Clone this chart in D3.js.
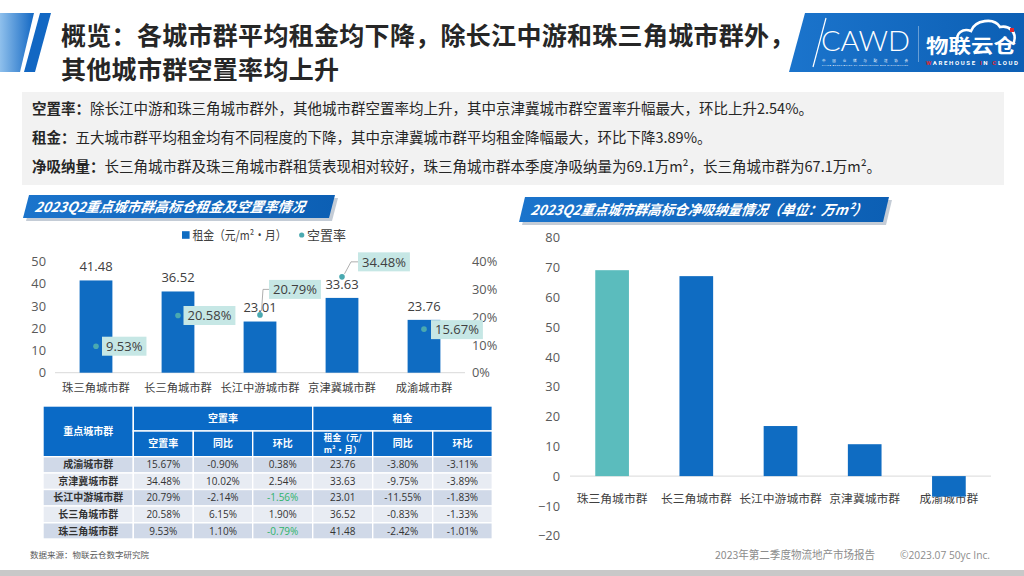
<!DOCTYPE html>
<html>
<head>
<meta charset="utf-8">
<script src="https://cdn.jsdelivr.net/npm/d3@7"></script>
<style>
  html, body { margin: 0; padding: 0; background: #fff; }
  svg { display: block; font-family: "Open Sans", "Noto Sans CJK SC", sans-serif; }
</style>
</head>
<body>
<svg id="page" width="1024" height="576"></svg>
<script>
'use strict';

// ---- Data ----
const titleLines = ['概览：各城市群平均租金均下降，除长江中游和珠三角城市群外，', '其他城市群空置率均上升'];
const summaryLabels = ['空置率：', '租金：', '净吸纳量：'];
const summaryTexts = [
  '除长江中游和珠三角城市群外，其他城市群空置率均上升，其中京津冀城市群空置率升幅最大，环比上升2.54%。',
  '五大城市群平均租金均有不同程度的下降，其中京津冀城市群平均租金降幅最大，环比下降3.89%。',
  '长三角城市群及珠三角城市群租赁表现相对较好，珠三角城市群本季度净吸纳量为69.1万m²，长三角城市群为67.1万m²。'
];

const cities = ['珠三角城市群', '长三角城市群', '长江中游城市群', '京津冀城市群', '成渝城市群'];
const rent = [41.48, 36.52, 23.01, 33.63, 23.76];
const vacancy = [0.0953, 0.2058, 0.2079, 0.3448, 0.1567];
const absorption = [69.1, 67.1, 16.8, 10.7, -6.9];

const rentTicks = [0, 10, 20, 30, 40, 50];
const vacancyTicks = [0, 0.1, 0.2, 0.3, 0.4];
const absorptionTicks = [-20, -10, 0, 10, 20, 30, 40, 50, 60, 70, 80];

const tableCities = ['成渝城市群', '京津冀城市群', '长江中游城市群', '长三角城市群', '珠三角城市群'];
const tableVacancy = [15.67, 34.48, 20.79, 20.58, 9.53];
const tableVacancyYoY = [-0.90, 10.02, -2.14, 6.15, 1.10];
const tableVacancyQoQ = [0.38, 2.54, -1.56, 1.90, -0.79];
const tableRent = [23.76, 33.63, 23.01, 36.52, 41.48];
const tableRentYoY = [-3.80, -9.75, -11.55, -0.83, -2.42];
const tableRentQoQ = [-3.11, -3.89, -1.83, -1.33, -1.01];

const leftTitle = '2023Q2重点城市群高标仓租金及空置率情况';
const rightTitle = '2023Q2重点城市群高标仓净吸纳量情况（单位：万m²）';
const sourceNote = '数据来源：物联云仓数字研究院';
const footerReport = '2023年第二季度物流地产市场报告';
const footerCopy = '©2023.07 50yc Inc.';

// ---- Styles ----
const BLUE = '#0f6cc2';
const TEAL = '#5bbcbd';
const DOT = '#4aa9b0';
const TEXT = '#404040';
const AXIS_TEXT = '#595959';
const CJK = '"Noto Sans CJK SC", sans-serif';
const LATIN = '"Open Sans", "Noto Sans CJK SC", sans-serif';

const fmt = d3.formatLocale({ decimal: '.', thousands: ',', grouping: [3], currency: ['', ''], minus: '-' });
const pct2 = v => fmt.format('.2f')(v) + '%';

const svg = d3.select('#page');
const defs = svg.append('defs');

const grad = defs.append('linearGradient').attr('id', 'bannerGrad').attr('x1', 0).attr('x2', 1);
grad.append('stop').attr('offset', 0).attr('stop-color', '#1b74cc');
grad.append('stop').attr('offset', 1).attr('stop-color', '#0c5fb4');

const stripeGrad = defs.append('linearGradient').attr('id', 'stripeGrad').attr('x1', 0).attr('x2', 1);
stripeGrad.append('stop').attr('offset', 0).attr('stop-color', '#8fc0ec');
stripeGrad.append('stop').attr('offset', 1).attr('stop-color', '#1267c3');

// ---- Header ----
svg.append('polygon').attr('points', '0,13 34,13 20,72 0,72').attr('fill', 'url(#stripeGrad)');
svg.append('polygon').attr('points', '40,13 51,13 35,72 24,72').attr('fill', '#1267c3');

svg.append('g').selectAll('text')
  .data(titleLines)
  .join('text')
  .attr('x', 61)
  .attr('y', (d, i) => 35.5 + i * 34.5)
  .attr('dy', '0.36em')
  .attr('font-family', CJK)
  .attr('font-weight', 700)
  .attr('font-size', 25)
  .attr('letter-spacing', 0.3)
  .attr('fill', '#262626')
  .text(d => d);

// Logo block
const logo = svg.append('g');
logo.append('polygon').attr('points', '805,13 1024,13 1024,72 789,72').attr('fill', 'url(#bannerGrad)');
logo.append('line').attr('x1', 826).attr('y1', 18).attr('x2', 813).attr('y2', 67)
  .attr('stroke', '#fff').attr('stroke-width', 1.2);
logo.append('text').attr('x', 821).attr('y', 51)
  .attr('font-family', 'Lato, sans-serif').attr('font-weight', 300).attr('font-size', 28)
  .attr('textLength', 89).attr('lengthAdjust', 'spacingAndGlyphs').attr('fill', '#fff').text('CAWD');
logo.append('text').attr('x', 822).attr('y', 61.5)
  .attr('font-family', CJK).attr('font-size', 3.5).attr('textLength', 86).attr('fill', '#fff')
  .text('中 国 仓 储 与 配 送 协 会');
logo.append('text').attr('x', 822).attr('y', 65.5)
  .attr('font-family', 'Roboto, sans-serif').attr('font-size', 2.3).attr('textLength', 86).attr('fill', '#fff')
  .text('CHINA ASSOCIATION OF WAREHOUSES AND DISTRIBUTION');
logo.append('line').attr('x1', 918.5).attr('x2', 918.5).attr('y1', 26).attr('y2', 62)
  .attr('stroke', '#fff').attr('stroke-opacity', 0.45).attr('stroke-width', 0.8);
logo.append('path')
  .attr('d', 'M958,42 C955,33 963,28 971,31 C975,20 994,17 1000,27 C1009,25 1017,32 1014,42')
  .attr('fill', 'none').attr('stroke', '#fff').attr('stroke-width', 2.6).attr('stroke-linecap', 'round');
logo.append('rect').attr('x', 1010).attr('y', 28).attr('width', 4).attr('height', 4).attr('fill', '#e2262e');
logo.append('text').attr('x', 926).attr('y', 53)
  .attr('font-family', CJK).attr('font-weight', 700).attr('font-size', 19)
  .attr('textLength', 90).attr('lengthAdjust', 'spacingAndGlyphs').attr('fill', '#fff').text('物联云仓');
const wic = logo.append('text').attr('x', 926).attr('y', 65)
  .attr('font-family', 'Roboto, sans-serif').attr('font-weight', 700).attr('font-size', 6)
  .attr('textLength', 92).attr('fill', '#fff');
[['W', '#e2262e'], ['AREHOUSE ', '#fff'], ['I', '#e2262e'], ['N ', '#fff'], ['C', '#e2262e'], ['LOUD', '#fff']]
  .forEach(([t, c]) => wic.append('tspan').attr('fill', c).text(t));

// ---- Summary box ----
svg.append('rect').attr('x', 22).attr('y', 92).attr('width', 982).attr('height', 93).attr('fill', '#f2f2f2');
const summary = svg.append('g').selectAll('text')
  .data(summaryTexts)
  .join('text')
  .attr('x', 32)
  .attr('y', (d, i) => 109 + i * 29)
  .attr('dy', '0.36em')
  .attr('font-family', CJK)
  .attr('font-size', 14.5)
  .attr('fill', '#262626');
summary.append('tspan').attr('font-weight', 700).text((d, i) => summaryLabels[i]);
summary.append('tspan').text(d => d);

// ---- Title banners ----
function banner(x, y, w, h, skew, text, textLen) {
  const g = svg.append('g');
  g.append('polygon')
    .attr('points', `${x + skew + 3},${y + 3} ${x + w + 3},${y + 3} ${x + w - skew + 3},${y + h + 3} ${x + 3},${y + h + 3}`)
    .attr('fill', '#7d8fa3').attr('opacity', 0.45);
  g.append('polygon')
    .attr('points', `${x + skew},${y} ${x + w},${y} ${x + w - skew},${y + h} ${x},${y + h}`)
    .attr('fill', 'url(#bannerGrad)');
  g.append('text')
    .attr('x', x + 12).attr('y', y + h / 2).attr('dy', '0.36em')
    .attr('font-family', CJK).attr('font-weight', 700).attr('font-style', 'italic')
    .attr('font-size', 14).attr('fill', '#fff')
    .attr('textLength', textLen).attr('lengthAdjust', 'spacingAndGlyphs')
    .attr('transform', `skewX(-10) translate(${(y + h / 2) * Math.tan(10 * Math.PI / 180)},0)`)
    .text(text);
}
banner(23, 195, 312, 23, 6, leftTitle, 270);
banner(519, 197, 370, 25, 6, rightTitle, 336);

// ---- Left chart: rent bars + vacancy dots ----
const xL = d3.scaleBand().domain(cities).range([55, 465]).paddingInner(0.6).paddingOuter(0.3);
const yL = d3.scaleLinear().domain([0, 50]).range([372.7, 261.5]);
const yV = d3.scaleLinear().domain([0, 0.4]).range([372.7, 261.5]);

const leftAxis = svg.append('g').attr('transform', 'translate(46,0)')
  .call(d3.axisLeft(yL).tickValues(rentTicks).tickSize(0).tickPadding(0));
const rightAxis = svg.append('g').attr('transform', 'translate(472,0)')
  .call(d3.axisRight(yV).tickValues(vacancyTicks).tickSize(0).tickPadding(0).tickFormat(d3.format('.0%')));
const catAxisL = svg.append('g').attr('transform', `translate(0,${yL(0)})`)
  .call(d3.axisBottom(xL).tickSize(0).tickPadding(10.8));
[leftAxis, rightAxis, catAxisL].forEach(a => {
  a.select('.domain').remove();
  a.selectAll('text').attr('font-family', LATIN).attr('font-size', 12.8).attr('fill', AXIS_TEXT);
});
catAxisL.selectAll('text').attr('font-size', 11.3).attr('fill', TEXT);

svg.append('line').attr('x1', 55).attr('x2', 465).attr('y1', yL(0)).attr('y2', yL(0))
  .attr('stroke', '#d9d9d9').attr('stroke-width', 1);

svg.append('g').selectAll('rect')
  .data(rent)
  .join('rect')
  .attr('x', (d, i) => xL(cities[i]))
  .attr('y', d => yL(d))
  .attr('width', xL.bandwidth())
  .attr('height', d => yL(0) - yL(d))
  .attr('fill', BLUE);

svg.append('g').selectAll('text')
  .data(rent)
  .join('text')
  .attr('x', (d, i) => xL(cities[i]) + xL.bandwidth() / 2)
  .attr('y', d => yL(d) - 14)
  .attr('dy', '0.36em')
  .attr('text-anchor', 'middle')
  .attr('font-size', 13)
  .attr('fill', TEXT)
  .text(d => fmt.format('.2f')(d));

// Vacancy label placement (offsets of the label box from its dot)
const vacLabelLayout = [
  { dx: 6, dy: 0 },
  { dx: 5.5, dy: 0 },
  { dx: 9, dy: -25.5, leader: 'elbow' },
  { dx: 16, dy: -15, leader: 'diag' },
  { dx: 7, dy: 0.5 }
];

const vacG = svg.append('g');
vacancy.forEach((v, i) => {
  const cx = xL(cities[i]) + xL.bandwidth() / 2;
  const cy = yV(v);
  const lay = vacLabelLayout[i];
  const bx = cx + lay.dx;
  const by = cy + lay.dy;
  if (lay.leader === 'elbow') {
    vacG.append('path').attr('d', `M${cx + 1.5},${cy - 4} L${cx + 3},${by} L${bx},${by}`)
      .attr('fill', 'none').attr('stroke', '#a6a6a6').attr('stroke-width', 0.9);
  } else if (lay.leader === 'diag') {
    vacG.append('path').attr('d', `M${cx + 2.5},${cy - 3} L${bx - 7},${by} L${bx},${by}`)
      .attr('fill', 'none').attr('stroke', '#a6a6a6').attr('stroke-width', 0.9);
  }
  const t = vacG.append('text')
    .attr('x', bx + 4).attr('y', by).attr('dy', '0.36em')
    .attr('font-size', 13).attr('fill', TEXT)
    .text(pct2(v * 100));
  const w = t.node().getComputedTextLength();
  vacG.insert('rect', () => t.node())
    .attr('x', bx).attr('y', by - 9.5).attr('width', w + 8).attr('height', 19)
    .attr('fill', '#c6e7e5');
  vacG.append('circle').attr('cx', cx).attr('cy', cy).attr('r', 2.8).attr('fill', DOT);
});

// Legend
const legend = svg.append('g').attr('transform', 'translate(0,235)');
legend.append('rect').attr('x', 182).attr('y', -3.8).attr('width', 7.6).attr('height', 7.6).attr('fill', BLUE);
legend.append('text').attr('x', 192.5).attr('dy', '0.36em').attr('font-size', 12.5).attr('fill', TEXT)
  .attr('font-family', CJK).attr('textLength', 94).attr('lengthAdjust', 'spacingAndGlyphs')
  .text('租金（元/m²·月）');
legend.append('circle').attr('cx', 301.7).attr('r', 2.6).attr('fill', DOT);
legend.append('text').attr('x', 307).attr('dy', '0.36em').attr('font-size', 13).attr('fill', TEXT)
  .attr('font-family', CJK).text('空置率');

// ---- Table ----
const colEdges = [43, 133.3, 193.3, 252.7, 312.7, 372.7, 432.7, 492.3];
const rowEdges = [406, 431, 456.7, 473, 489.5, 506, 522.8, 539];

const headerCells = [
  { c0: 0, c1: 1, r0: 0, r1: 2, text: ['重点城市群'] },
  { c0: 1, c1: 4, r0: 0, r1: 1, text: ['空置率'] },
  { c0: 4, c1: 7, r0: 0, r1: 1, text: ['租金'] },
  { c0: 1, c1: 2, r0: 1, r1: 2, text: ['空置率'] },
  { c0: 2, c1: 3, r0: 1, r1: 2, text: ['同比'] },
  { c0: 3, c1: 4, r0: 1, r1: 2, text: ['环比'] },
  { c0: 4, c1: 5, r0: 1, r1: 2, text: ['租金（元/', 'm²·月）'] },
  { c0: 5, c1: 6, r0: 1, r1: 2, text: ['同比'] },
  { c0: 6, c1: 7, r0: 1, r1: 2, text: ['环比'] }
];

const bodyCells = [];
tableCities.forEach((city, i) => {
  const vals = [
    { text: city, bold: true },
    { text: pct2(tableVacancy[i]) },
    { text: pct2(tableVacancyYoY[i]) },
    { text: pct2(tableVacancyQoQ[i]), green: tableVacancyQoQ[i] < 0 },
    { text: fmt.format('.2f')(tableRent[i]) },
    { text: pct2(tableRentYoY[i]) },
    { text: pct2(tableRentQoQ[i]) }
  ];
  vals.forEach((v, c) => bodyCells.push(Object.assign({ c0: c, c1: c + 1, r0: i + 2, r1: i + 3, row: i }, v)));
});

const table = svg.append('g');
const hdr = table.selectAll('g.hdr').data(headerCells).join('g').attr('class', 'hdr');
hdr.append('rect')
  .attr('x', d => colEdges[d.c0]).attr('y', d => rowEdges[d.r0])
  .attr('width', d => colEdges[d.c1] - colEdges[d.c0]).attr('height', d => rowEdges[d.r1] - rowEdges[d.r0])
  .attr('fill', '#0a6ac6').attr('stroke', '#fff').attr('stroke-width', 1.4);
hdr.each(function(d) {
  const cx = (colEdges[d.c0] + colEdges[d.c1]) / 2;
  const cy = (rowEdges[d.r0] + rowEdges[d.r1]) / 2;
  const n = d.text.length;
  const lineH = 12.5;
  // one text element per cell; wrapped lines are tspans
  d3.select(this).append('text')
    .attr('x', cx).attr('y', cy - (n - 1) * lineH / 2)
    .attr('text-anchor', 'middle').attr('font-family', CJK).attr('font-weight', 700)
    .attr('font-size', n > 1 ? 8.6 : 10).attr('fill', '#fff')
    .selectAll('tspan').data(d.text).join('tspan')
    .attr('x', cx).attr('dy', (t, k) => k === 0 ? '0.36em' : lineH)
    .text(t => t);
});

const body = table.selectAll('g.cell').data(bodyCells).join('g').attr('class', 'cell');
body.append('rect')
  .attr('x', d => colEdges[d.c0]).attr('y', d => rowEdges[d.r0])
  .attr('width', d => colEdges[d.c1] - colEdges[d.c0]).attr('height', d => rowEdges[d.r1] - rowEdges[d.r0])
  .attr('fill', d => d.row % 2 === 0 ? '#d0d9e8' : '#e8ecf3').attr('stroke', '#fff').attr('stroke-width', 1.4);
body.append('text')
  .attr('x', d => (colEdges[d.c0] + colEdges[d.c1]) / 2)
  .attr('y', d => (rowEdges[d.r0] + rowEdges[d.r1]) / 2).attr('dy', '0.36em')
  .attr('text-anchor', 'middle')
  .attr('font-family', d => d.bold ? CJK : LATIN)
  .attr('font-weight', d => d.bold ? 700 : 400)
  .attr('font-size', 10)
  .attr('fill', d => d.green ? '#2fb36b' : '#333')
  .text(d => d.text);

svg.append('text').attr('x', 30).attr('y', 555).attr('dy', '0.36em')
  .attr('font-family', CJK).attr('font-size', 8.5).attr('fill', '#595959').text(sourceNote);

// ---- Right chart: net absorption ----
const xR = d3.scaleBand().domain(cities).range([570, 991]).paddingInner(0.6).paddingOuter(0.3);
const yR = d3.scaleLinear().domain([-20, 80]).range([535.7, 237.7]);

const absAxis = svg.append('g').attr('transform', 'translate(560,0)')
  .call(d3.axisLeft(yR).tickValues(absorptionTicks).tickSize(0).tickPadding(0));
const catAxisR = svg.append('g').attr('transform', `translate(0,${yR(0)})`)
  .call(d3.axisBottom(xR).tickSize(0).tickPadding(18.5));
[absAxis, catAxisR].forEach(a => {
  a.select('.domain').remove();
  a.selectAll('text').attr('font-family', LATIN).attr('font-size', 12.8).attr('fill', AXIS_TEXT);
});
catAxisR.selectAll('text').attr('font-size', 11.8).attr('fill', TEXT);

svg.append('line').attr('x1', 570).attr('x2', 991).attr('y1', yR(0)).attr('y2', yR(0))
  .attr('stroke', '#d9d9d9').attr('stroke-width', 1);

svg.append('g').selectAll('rect')
  .data(absorption)
  .join('rect')
  .attr('x', (d, i) => xR(cities[i]))
  .attr('y', d => yR(Math.max(0, d)))
  .attr('width', xR.bandwidth())
  .attr('height', d => Math.abs(yR(d) - yR(0)))
  .attr('fill', (d, i) => i === 0 ? TEAL : BLUE);

// ---- Footer ----
svg.append('text').attr('x', 715).attr('y', 555).attr('dy', '0.36em')
  .attr('font-family', CJK).attr('font-size', 10.8).attr('textLength', 160).attr('lengthAdjust', 'spacingAndGlyphs')
  .attr('fill', '#8c8c8c').text(footerReport);
svg.append('text').attr('x', 900).attr('y', 555).attr('dy', '0.36em')
  .attr('font-size', 10.8).attr('textLength', 90).attr('lengthAdjust', 'spacingAndGlyphs')
  .attr('fill', '#8c8c8c').text(footerCopy);
svg.append('rect').attr('x', 0).attr('y', 570).attr('width', 1024).attr('height', 6).attr('fill', '#c8c8c8');
</script>
</body>
</html>
